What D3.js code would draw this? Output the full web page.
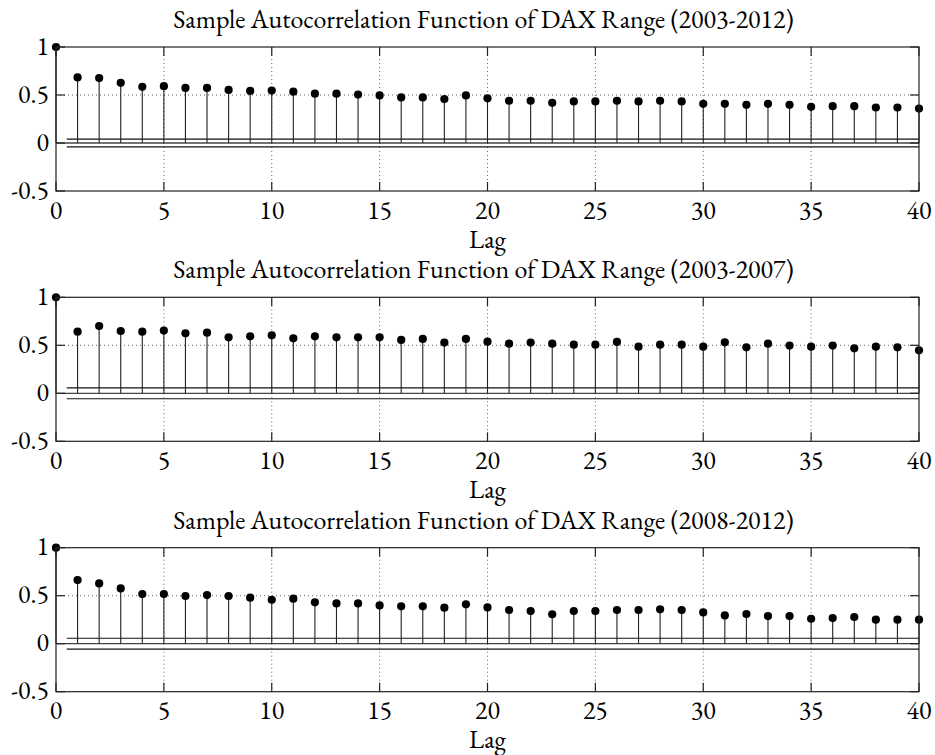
<!DOCTYPE html>
<html>
<head>
<meta charset="utf-8">
<script src="https://cdn.jsdelivr.net/npm/d3@7"></script>
<style>
  html, body { margin: 0; padding: 0; background: #fff; }
  svg { display: block; }
</style>
</head>
<body>
<svg id="chart" width="935" height="755"></svg>
<script>
// ---------------- data ----------------
const lags = [0,1,2,3,4,5,6,7,8,9,10,11,12,13,14,15,16,17,18,19,20,
              21,22,23,24,25,26,27,28,29,30,31,32,33,34,35,36,37,38,39,40];

const acf_2003_2012 = [1.000,0.683,0.676,0.627,0.585,0.592,0.574,0.574,0.553,0.542,0.546,
  0.535,0.514,0.514,0.504,0.496,0.475,0.475,0.458,0.496,0.465,
  0.440,0.440,0.419,0.433,0.433,0.440,0.433,0.440,0.433,0.408,
  0.408,0.398,0.408,0.398,0.377,0.384,0.384,0.370,0.370,0.359];

const acf_2003_2007 = [1.000,0.642,0.701,0.649,0.642,0.653,0.625,0.632,0.583,0.594,0.604,
  0.573,0.594,0.583,0.583,0.583,0.556,0.566,0.528,0.566,0.538,
  0.517,0.528,0.517,0.507,0.507,0.535,0.486,0.507,0.507,0.486,
  0.531,0.479,0.517,0.497,0.486,0.497,0.469,0.486,0.479,0.448];

const acf_2008_2012 = [1.000,0.663,0.628,0.576,0.517,0.517,0.497,0.507,0.497,0.479,0.458,
  0.469,0.431,0.420,0.420,0.399,0.389,0.389,0.375,0.410,0.378,
  0.351,0.340,0.306,0.340,0.340,0.351,0.351,0.358,0.351,0.326,
  0.295,0.309,0.288,0.288,0.260,0.267,0.278,0.250,0.250,0.250];

const titles = [
  "Sample Autocorrelation Function of DAX Range (2003-2012)",
  "Sample Autocorrelation Function of DAX Range (2003-2007)",
  "Sample Autocorrelation Function of DAX Range (2008-2012)"
];
const confBounds = [0.040, 0.057, 0.057];
const xTicks = [0,5,10,15,20,25,30,35,40];
const yTicks = [-0.5,0,0.5,1];
const yTickLabels = ["-0.5","0","0.5","1"];
const xLabel = "Lag";
const series = [acf_2003_2012, acf_2003_2007, acf_2008_2012];

// ---------------- layout ----------------
const FONT = '"EB Garamond", "Liberation Serif", serif';
const svg = d3.select("#chart");
const left = 56, right = 919;
const panelTops = [47, 297.3, 547.7];
const panelH = 144;
const FS = 26;
const tickLen = 9;

const x = d3.scaleLinear().domain([0, 40]).range([left, right]);

panelTops.forEach((top, p) => {
  const bottom = top + panelH;
  const y = d3.scaleLinear().domain([-0.5, 1]).range([bottom, top]);
  const g = svg.append("g");
  const vals = series[p];

  // grid (dotted)
  g.append("g").selectAll("line").data(xTicks.filter(t => t > 0 && t < 40)).join("line")
    .attr("x1", d => x(d)).attr("x2", d => x(d))
    .attr("y1", top).attr("y2", bottom)
    .attr("stroke", "#666").attr("stroke-width", 1).attr("stroke-dasharray", "1,3");
  g.append("g").selectAll("line").data(yTicks.filter(t => t > -0.5 && t < 1 && t !== 0)).join("line")
    .attr("x1", left).attr("x2", right)
    .attr("y1", d => y(d)).attr("y2", d => y(d))
    .attr("stroke", "#666").attr("stroke-width", 1).attr("stroke-dasharray", "1,3");

  // zero baseline
  g.append("line")
    .attr("x1", left).attr("x2", right)
    .attr("y1", y(0)).attr("y2", y(0))
    .attr("stroke", "#444").attr("stroke-width", 1.3);

  // confidence bounds
  [confBounds[p], -confBounds[p]].forEach(b => {
    g.append("line")
      .attr("x1", x(0.5)).attr("x2", right)
      .attr("y1", y(b)).attr("y2", y(b))
      .attr("stroke", "#111").attr("stroke-width", 1.1);
  });

  // stems
  g.append("g").selectAll("line").data(lags).join("line")
    .attr("x1", d => x(d)).attr("x2", d => x(d))
    .attr("y1", y(0)).attr("y2", (d, i) => y(vals[i]))
    .attr("stroke", "#222").attr("stroke-width", 1.1);

  // markers
  g.append("g").selectAll("circle").data(lags).join("circle")
    .attr("cx", d => x(d)).attr("cy", (d, i) => y(vals[i]))
    .attr("r", 4.1).attr("fill", "#000");

  // box
  g.append("rect")
    .attr("x", left).attr("y", top)
    .attr("width", right - left).attr("height", bottom - top)
    .attr("fill", "none").attr("stroke", "#222").attr("stroke-width", 1.2);

  // inward ticks
  const tk = g.append("g").attr("stroke", "#222").attr("stroke-width", 1.2);
  xTicks.forEach(t => {
    tk.append("line").attr("x1", x(t)).attr("x2", x(t)).attr("y1", bottom).attr("y2", bottom - tickLen);
    tk.append("line").attr("x1", x(t)).attr("x2", x(t)).attr("y1", top).attr("y2", top + tickLen);
  });
  yTicks.forEach(t => {
    tk.append("line").attr("x1", left).attr("x2", left + tickLen).attr("y1", y(t)).attr("y2", y(t));
    tk.append("line").attr("x1", right).attr("x2", right - tickLen).attr("y1", y(t)).attr("y2", y(t));
  });

  // x tick labels
  g.append("g").selectAll("text").data(xTicks).join("text")
    .attr("x", d => x(d)).attr("y", bottom + 27.5)
    .attr("text-anchor", "middle").attr("font-size", FS)
    .style("font-family", FONT).style("fill", "#000")
    .text(d => d);

  // y tick labels
  g.append("g").selectAll("text").data(yTicks).join("text")
    .attr("x", left - 7).attr("y", d => y(d) + 7.5)
    .attr("text-anchor", "end").attr("font-size", FS)
    .style("font-family", FONT).style("fill", "#000")
    .text((d, i) => yTickLabels[i]);

  // x label
  g.append("text")
    .attr("x", (left + right) / 2).attr("y", bottom + 56.5)
    .attr("text-anchor", "middle").attr("font-size", FS)
    .style("font-family", FONT).style("fill", "#000")
    .text(xLabel);

  // title
  g.append("text")
    .attr("x", 483.5).attr("y", top - 19)
    .attr("text-anchor", "middle").attr("font-size", FS)
    .style("font-family", FONT).style("fill", "#000")
    .text(titles[p]);
});
</script>
</body>
</html>
